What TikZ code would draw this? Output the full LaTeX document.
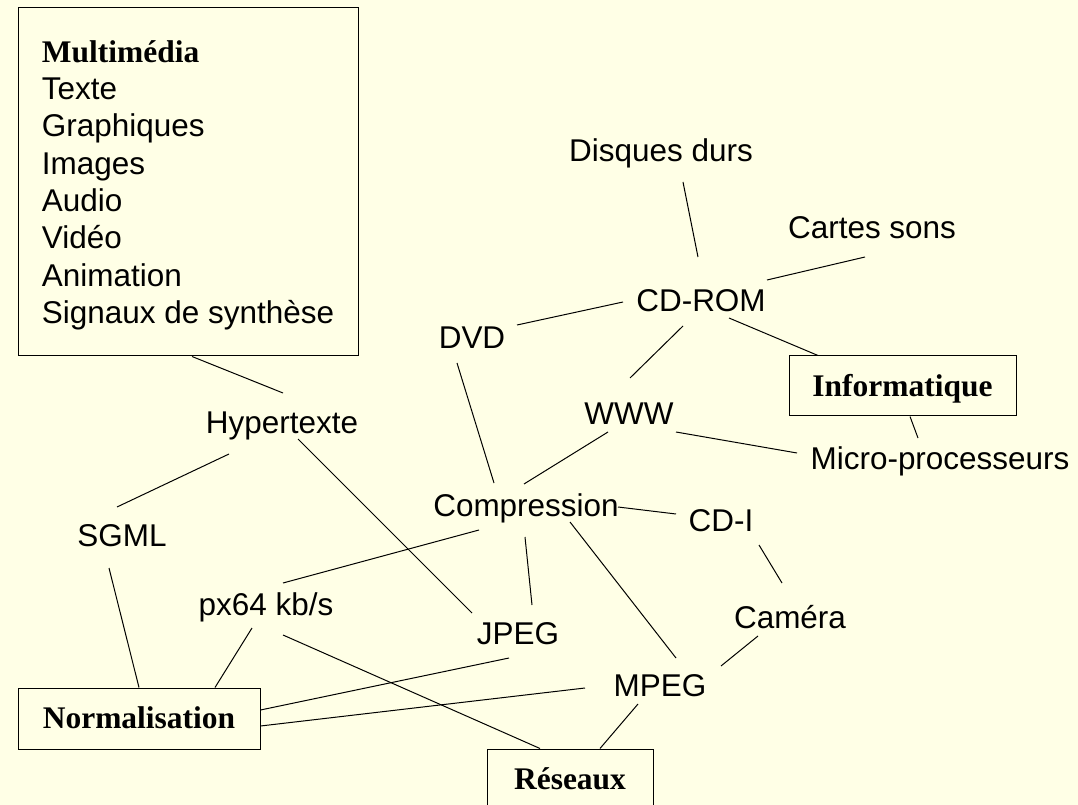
\documentclass[tikz,border=0pt]{standalone}
\usepackage{fontspec}
\setmainfont{Liberation Sans}
\newfontfamily\serifx{Liberation Serif}
\usetikzlibrary{calc}
\definecolor{bg}{RGB}{255,255,230}
\begin{document}
\begin{tikzpicture}[x=0.75pt,y=-0.75pt,
  lbl/.style={inner sep=0pt, text height=16.9pt, text depth=0pt, font=\fontsize{23.6}{28}\selectfont},
  box/.style={draw, line width=0.75pt, inner sep=0pt, text height=15.6pt, text depth=0pt, font=\serifx\bfseries\fontsize{23.6}{28}\selectfont},
  conn/.style={line width=0.75pt}]
\fill[bg] (0,0) rectangle (1078,805);
\useasboundingbox (0,0) rectangle (1078,805);

% multimedia box
\node[draw, line width=0.75pt, inner sep=0pt, minimum width=255pt, minimum height=261pt, align=left,
      font=\fontsize{23.6}{28}\selectfont] (mm) at (188,182)
 {\rule{0pt}{40.5pt}{\serifx\bfseries Multimédia}\\Texte\\Graphiques\\Images\\Audio\\Vidéo\\Animation\\Signaux de synthèse\rule[-24pt]{0pt}{24pt}};

% boxes
\node[box, minimum width=170.25pt, minimum height=45pt] (info) at (902.5,386) {Informatique};
\node[box, minimum width=181.5pt, minimum height=45.75pt] (norm) at (139,718.5) {Normalisation};
\node[box, minimum width=124.5pt, minimum height=45pt] (res) at (570,779) {Réseaux};

% labels
\node[lbl] (hyper) at (282,422) {Hypertexte};
\node[lbl] (sgml) at (122,535) {SGML};
\node[lbl] (px64) at (266,604) {px64 kb/s};
\node[lbl] (jpeg) at (518,633) {JPEG};
\node[lbl] (comp) at (526,505) {Compression};
\node[lbl] (mpeg) at (660,685) {MPEG};
\node[lbl] (camera) at (790,617) {Caméra};
\node[lbl] (cdi) at (721,520) {CD-I};
\node[lbl] (www) at (629,413) {WWW};
\node[lbl] (dvd) at (472,337) {DVD};
\node[lbl] (cdrom) at (701,300) {CD-ROM};
\node[lbl] (disques) at (661,150) {Disques durs};
\node[lbl] (cartes) at (872,227) {Cartes sons};
\node[lbl] (micro) at (940,458) {Micro-processeurs};

% connectors
\draw[conn] ($(mm.south)+(4,0)$) -- ($(hyper)+(1,-29)$);
\draw[conn] ($(hyper)+(-53,32)$) -- ($(sgml)+(-5,-28)$);
\draw[conn] ($(hyper)+(16,17)$) -- ($(jpeg)+(-46,-20)$);
\draw[conn] ($(sgml)+(-13,33)$) -- (norm.north);
\draw[conn] ($(px64)+(-14,24)$) -- ($(norm.north)+(76,0)$);
\draw[conn] ($(px64)+(17,-21)$) -- ($(comp)+(-47,25)$);
\draw[conn] ($(px64)+(17,31)$) -- ($(res.north)+(-30,0)$);
\draw[conn] ($(norm.east)+(0,-8.5)$) -- ($(jpeg)+(-9,25)$);
\draw[conn] ($(norm.east)+(0,7.5)$) -- ($(mpeg)+(-75,3)$);
\draw[conn] ($(jpeg)+(14,-28)$) -- ($(comp)+(-1,32)$);
\draw[conn] ($(comp)+(44,17)$) -- ($(mpeg)+(16,-27)$);
\draw[conn] ($(comp)+(92,2)$) -- ($(cdi)+(-45,-6)$);
\draw[conn] ($(cdi)+(38,25)$) -- ($(camera)+(-8,-34)$);
\draw[conn] ($(camera)+(-32,19)$) -- ($(mpeg)+(61,-19)$);
\draw[conn] ($(mpeg)+(-22,19)$) -- ($(res.north)+(30,0)$);
\draw[conn] ($(dvd)+(-15,26)$) -- ($(comp)+(-32,-22)$);
\draw[conn] ($(www)+(-21,19)$) -- ($(comp)+(-2,-21)$);
\draw[conn] ($(cdrom)+(-18,26)$) -- ($(www)+(1,-35)$);
\draw[conn] ($(www)+(47,19)$) -- ($(micro)+(-143,-5)$);
\draw[conn] ($(cdrom)+(-78,2)$) -- ($(dvd)+(45,-12)$);
\draw[conn] ($(cdrom)+(-3,-43)$) -- ($(disques)+(22,32)$);
\draw[conn] ($(cdrom)+(66,-20)$) -- ($(cartes)+(-7,30)$);
\draw[conn] ($(cdrom)+(28,18)$) -- ($(info.north)+(-84.5,0)$);
\draw[conn] ($(info.south)+(7.5,0)$) -- ($(micro)+(-22,-20)$);
\end{tikzpicture}
\end{document}
